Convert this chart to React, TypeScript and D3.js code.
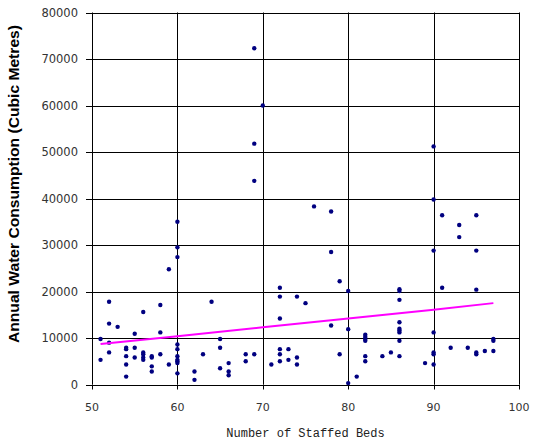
import React from 'react';
import * as d3 from 'd3';

// staffed beds vs annual water consumption
const beds = [
  69, 70, 60, 60, 60, 69, 69, 76, 78, 78, 90, 90, 91, 95, 93, 93, 90, 95,
  59, 52, 58, 56, 64, 52, 53, 55, 58, 51, 52, 65, 52, 51, 54, 54, 55, 54,
  55, 54, 54, 56, 56, 56, 56, 57, 57, 57, 57, 58, 59, 60, 60, 60, 60, 60,
  60, 60, 63, 62, 62, 65, 65, 66, 66, 66, 72, 72, 74, 75, 72, 79, 80, 78,
  80, 82, 82, 82, 82, 68, 68, 69, 72, 72, 72, 73, 73, 74, 74, 71, 79, 82,
  82, 81, 80, 86, 86, 86, 91, 95, 86, 86, 86, 86, 86, 90, 84, 85, 86, 89,
  90, 90, 90, 92, 94, 95, 95, 96, 97, 97, 97,
];
const water = [
  72300, 60000, 35000, 29500, 27400, 51800, 43800, 38300, 37200, 28500, 51200, 39800, 36400, 36400, 34300, 31700, 28800, 28800,
  24800, 17800, 17100, 15600, 17800, 13100, 12400, 10900, 11200, 9800, 9000, 9800, 6900, 5300, 7900, 7600, 7900, 6100,
  5800, 4300, 1700, 6900, 6500, 5800, 5300, 6100, 5800, 3900, 2800, 6500, 4300, 8600, 7600, 6100, 5300, 5000,
  4600, 2400, 6500, 2800, 1000, 7900, 3500, 4600, 2800, 2000, 20800, 18900, 18900, 17500, 14200, 22200, 20100, 12700,
  11900, 10700, 10200, 9800, 9400, 6500, 5000, 6500, 7600, 6500, 5000, 7600, 5300, 5800, 4300, 4300, 6500, 6100,
  5000, 1700, 300, 20500, 20100, 18200, 20800, 20400, 13400, 12000, 11600, 11200, 9400, 11200, 6100, 6900, 6100, 4600,
  6900, 6500, 4300, 7900, 7900, 6900, 6500, 7200, 9400, 9800, 7200,
];

// fitted trend
const trendBeds = [51, 60, 70, 80, 90, 97];
const trendWater = [8700, 10400, 12300, 14200, 16100, 17500];

const xTicks = [50, 60, 70, 80, 90, 100];
const yTicks = [0, 10000, 20000, 30000, 40000, 50000, 60000, 70000, 80000];

export default function App() {
  const width = 536;
  const height = 447;
  const left = 92, right = 519, top = 12.5, bottom = 384.5;

  const x = d3.scaleLinear().domain([50, 100]).range([left, right]);
  const y = d3.scaleLinear().domain([0, 80000]).range([bottom, top]);

  const line = d3.line<number>()
    .x((d, i) => x(trendBeds[i]))
    .y(d => y(d));

  return (
    <svg width={width} height={height} style={{ position: 'absolute', left: 0, top: 0 }}>
      <rect width={width} height={height} fill="#fff" />
      {/* grid */}
      {yTicks.map(t => (
        <line key={'gy' + t} x1={left} x2={right} y1={Math.round(y(t)) + 0.5} y2={Math.round(y(t)) + 0.5} stroke="#000" />
      ))}
      {xTicks.map(t => (
        <line key={'gx' + t} x1={Math.round(x(t)) + 0.5} x2={Math.round(x(t)) + 0.5} y1={top} y2={bottom} stroke="#000" />
      ))}
      {/* ticks + labels */}
      {yTicks.map(t => (
        <g key={'ty' + t}>
          <line x1={left - 6} x2={left} y1={Math.round(y(t)) + 0.5} y2={Math.round(y(t)) + 0.5} stroke="#000" />
          <text x={78} y={y(t) + 4} textAnchor="end" fontFamily="DejaVu Sans" fontSize={11.5} fill="#333">{t}</text>
        </g>
      ))}
      {xTicks.map(t => (
        <g key={'tx' + t}>
          <line x1={Math.round(x(t)) + 0.5} x2={Math.round(x(t)) + 0.5} y1={bottom} y2={bottom + 5} stroke="#000" />
          <text x={x(t)} y={411} textAnchor="middle" fontFamily="DejaVu Sans" fontSize={11} fill="#333">{t}</text>
        </g>
      ))}
      {/* points */}
      {beds.map((b, i) => (
        <circle key={'p' + i} cx={x(b)} cy={y(water[i])} r={2.2} fill="#000080" />
      ))}
      <path d={line(trendWater) || ''} fill="none" stroke="#ff00ff" strokeWidth={2} />
      {/* titles */}
      <text x={x(75)} y={437} textAnchor="middle" fontFamily="Liberation Mono" fontSize={12} fill="#222">Number of Staffed Beds</text>
      <text transform={`translate(19,184) rotate(-90)`} textAnchor="middle" fontFamily="Liberation Sans" fontWeight="bold" fontSize={14}
        textLength={318} lengthAdjust="spacingAndGlyphs" fill="#000">
        Annual Water Consumption (Cubic Metres)
      </text>
    </svg>
  );
}
